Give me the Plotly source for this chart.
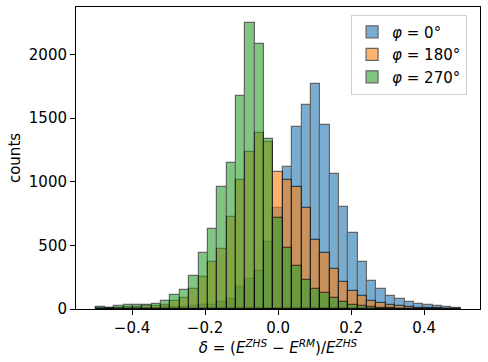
"""
Histograma de delta = (E_ZHS - E_RM)/E_ZHS para três ângulos phi.
Barras sobrepostas, estilo matplotlib.
"""

import numpy as np
import plotly.graph_objects as go

# 39 bins iguais entre -0.5 e 0.5
BIN_EDGES = np.linspace(-0.5, 0.5, 40)
BIN_CENTERS = (BIN_EDGES[:-1] + BIN_EDGES[1:]) / 2
BIN_WIDTH = BIN_EDGES[1] - BIN_EDGES[0]

COUNTS_PHI_0 = [
    3, 3, 5, 5, 8, 8, 10, 12, 15, 15,
    22, 28, 35, 55, 75, 172, 236, 300, 530, 792,
    1118, 1432, 1605, 1767, 1445, 1059, 805, 596, 373, 222,
    155, 99, 78, 52, 40, 34, 20, 15, 8,
]
COUNTS_PHI_180 = [
    4, 5, 8, 12, 15, 20, 25, 34, 60, 86,
    159, 250, 373, 470, 721, 1012, 1234, 1385, 1310, 1079,
    1014, 962, 795, 543, 439, 314, 216, 138, 99, 65,
    47, 34, 23, 17, 10, 6, 4, 2, 1,
]
COUNTS_PHI_270 = [
    13, 8, 20, 28, 30, 34, 36, 60, 112, 151,
    256, 439, 627, 960, 1145, 1677, 2251, 2086, 1333, 716,
    478, 334, 227, 154, 128, 88, 56, 34, 20, 12,
    8, 5, 3, 2, 1, 0, 0, 0, 0,
]

SERIES = [
    ("<i>φ</i> = 0°", COUNTS_PHI_0, "#1f77b4"),
    ("<i>φ</i> = 180°", COUNTS_PHI_180, "#ff7f0e"),
    ("<i>φ</i> = 270°", COUNTS_PHI_270, "#2ca02c"),
]

FONT = "DejaVu Sans, sans-serif"
FS = 15

fig = go.Figure()
for nome, valores, cor in SERIES:
    fig.add_trace(
        go.Bar(
            x=BIN_CENTERS,
            y=valores,
            width=BIN_WIDTH,
            name=nome,
            marker=dict(color=cor, line=dict(color="black", width=1.2)),
            opacity=0.6,
        )
    )

eixo = dict(
    showline=True,
    linecolor="black",
    linewidth=1,
    mirror=True,
    ticks="outside",
    ticklen=5,
    tickwidth=1,
    tickcolor="black",
    showgrid=False,
    zeroline=False,
    automargin=False,
    tickfont=dict(size=FS, color="black"),
)

fig.update_layout(
    width=488,
    height=362,
    barmode="overlay",
    bargap=0,
    paper_bgcolor="white",
    plot_bgcolor="white",
    font=dict(family=FONT, size=FS, color="black"),
    margin=dict(l=76, r=8, t=7, b=53),
    xaxis=dict(
        **eixo,
        range=[-0.5535, 0.5528],
        tickvals=[-0.4, -0.2, 0.0, 0.2, 0.4],
        tickformat=".1f",
        title=dict(
            text="<i>δ</i> = (<i>E</i><sup><i>ZHS</i></sup> − <i>E</i><sup><i>RM</i></sup>)/<i>E</i><sup><i>ZHS</i></sup>",
            font=dict(size=FS),
            standoff=2,
        ),
    ),
    yaxis=dict(
        **eixo,
        range=[0, 2373],
        tickvals=[0, 500, 1000, 1500, 2000],
        title=dict(text="counts", font=dict(size=FS), standoff=4),
    ),
    legend=dict(
        x=0.968,
        y=0.975,
        xanchor="right",
        yanchor="top",
        bgcolor="rgba(255,255,255,0.8)",
        bordercolor="#d0d0d0",
        borderwidth=1,
        font=dict(size=FS),
        tracegroupgap=0,
    ),
)

# a página padrão tem margem de 8px no body; zera para a figura caber na janela
fig.write_html(
    "out.html",
    config={"displayModeBar": False},
    post_script="document.body.style.margin='0';",
)
